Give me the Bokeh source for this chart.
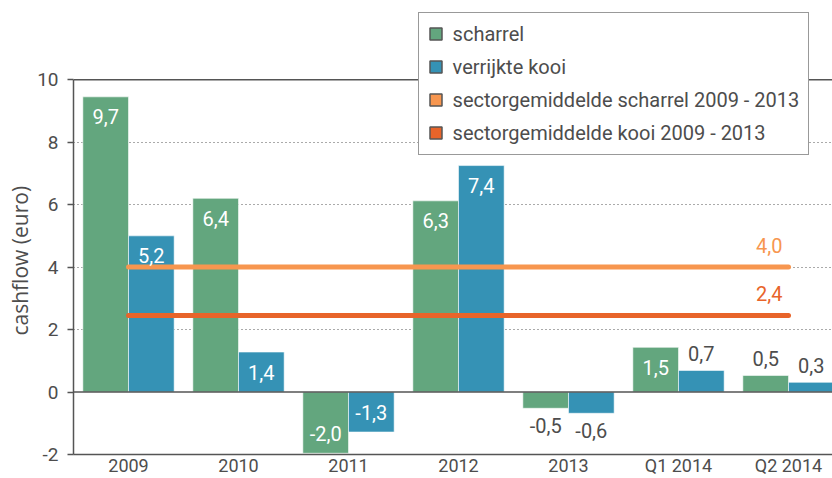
import numpy as np
from bokeh.plotting import figure
from bokeh.models import (ColumnDataSource, Range1d, FixedTicker, Span, Legend,
                          LegendItem, Title)
from bokeh.core.properties import value
from bokeh.embed import file_html
from bokeh.resources import INLINE

# ---- data ----
categories = ["2009", "2010", "2011", "2012", "2013", "Q1 2014", "Q2 2014"]
scharrel = [9.45, 6.2, -1.96, 6.12, -0.52, 1.43, 0.53]
kooi = [5.0, 1.28, -1.28, 7.25, -0.68, 0.69, 0.31]
scharrel_labels = ["9,7", "6,4", "-2,0", "6,3", "-0,5", "1,5", "0,5"]
kooi_labels = ["5,2", "1,4", "-1,3", "7,4", "-0,6", "0,7", "0,3"]
avg_values = [4.0, 2.45]
avg_labels = ["4,0", "2,4"]
y_ticks = [-2, 0, 2, 4, 6, 8, 10]
grid_ticks = [2, 4, 6, 8]
y_title = "cashflow (euro)"
series_names = ["scharrel", "verrijkte kooi",
                "sectorgemiddelde scharrel 2009 - 2013",
                "sectorgemiddelde kooi 2009 - 2013"]

# ---- styles / layout ----
GREEN = "#63A67E"
BLUE = "#3592B5"
LORANGE = "#F7964F"
DORANGE = "#E8642A"
GRAY = "#4d4d4d"
AXIS = "#555555"
FONT = "Roboto"

W, H = 832, 478
BOTTOM_PANEL = 25
TOP_PX = 79                      # pixel row of y = 10
TITLE_HALF_LEN = 68              # approx. half the pixel length of the y title
y_lo, y_hi = y_ticks[0], y_ticks[-1]
frame_h = H - BOTTOM_PANEL
px_per_unit = (frame_h - TOP_PX) / (y_hi - y_lo)
y_end = y_lo + frame_h / px_per_unit

n = len(categories)
centers = np.arange(n) + 0.5
bw = 0.415
off = 0.2075

p = figure(width=W, height=H, x_range=Range1d(0, 6.9), y_range=Range1d(y_lo, y_end),
           output_backend="svg", toolbar_location=None,
           min_border_left=73, min_border_right=0, min_border_top=0, min_border_bottom=0)
p.outline_line_color = None
p.background_fill_color = "white"
p.border_fill_color = "white"

# grid
p.xgrid.grid_line_color = None
p.ygrid.ticker = FixedTicker(ticks=grid_ticks)
p.ygrid.grid_line_color = AXIS
p.ygrid.grid_line_dash = "1 3"
p.ygrid.grid_line_width = 1

# y axis
p.yaxis.ticker = FixedTicker(ticks=y_ticks)
p.yaxis.bounds = (y_lo, y_hi)
p.yaxis.major_label_overrides = {t: str(t) for t in y_ticks}
p.yaxis.major_label_text_font = FONT
p.yaxis.major_label_text_font_size = "19px"
p.yaxis.major_label_text_color = GRAY
p.yaxis.major_label_standoff = 9
p.yaxis.major_tick_out = 6
p.yaxis.major_tick_in = 0
p.yaxis.minor_tick_line_color = None
p.yaxis.axis_line_color = AXIS
p.yaxis.axis_line_width = 1.5
p.yaxis.major_tick_line_color = AXIS
p.yaxis.major_tick_line_width = 1.5

# y title, centred on the -2..10 span (align "left" = measured up from frame bottom)
title_offset = (y_hi - y_lo) / 2 * px_per_unit - TITLE_HALF_LEN
p.add_layout(Title(text=y_title, align="left", offset=title_offset, standoff=2,
                   text_font="Open Sans", text_font_size="21px",
                   text_font_style="normal", text_color=GRAY), "left")

# x axis
p.xaxis.ticker = FixedTicker(ticks=list(centers))
p.xaxis.major_label_overrides = {float(c): lab for c, lab in zip(centers, categories)}
p.xaxis.major_label_text_font = FONT
p.xaxis.major_label_text_font_size = "18px"
p.xaxis.major_label_text_color = GRAY
p.xaxis.major_label_standoff = 0
p.xaxis.major_tick_out = 0
p.xaxis.major_tick_in = 0
p.xaxis.axis_label_standoff = 0
p.xaxis.major_tick_line_color = None
p.xaxis.minor_tick_line_color = None
p.xaxis.axis_line_color = AXIS
p.xaxis.axis_line_width = 1.5

# bars
src_g = ColumnDataSource(dict(x=centers - off, top=scharrel))
src_b = ColumnDataSource(dict(x=centers + off, top=kooi))
p.vbar(x="x", top="top", bottom=0, width=bw, source=src_g, fill_color=GREEN,
       line_color="white", line_alpha=0.55, line_width=1)
p.vbar(x="x", top="top", bottom=0, width=bw, source=src_b, fill_color=BLUE,
       line_color="white", line_alpha=0.55, line_width=1)

# frame lines at 10 and 0
p.add_layout(Span(location=y_hi, dimension="width", line_color=AXIS, line_width=1.5))
p.add_layout(Span(location=0, dimension="width", line_color=AXIS, line_width=1.5))

# average lines
avg_colors = [LORANGE, DORANGE]
for v, c in zip(avg_values, avg_colors):
    p.line(x=[centers[0], centers[-1]], y=[v, v], line_color=c, line_width=5,
           line_cap="round")
p.text(x=[centers[-1]] * 2, y=avg_values, text=avg_labels, x_offset=-6, y_offset=-22,
       text_align="right", text_baseline="middle", text_color=avg_colors,
       text_font=value(FONT), text_font_size="20px")

# value labels
def label_source(xs, heights, labels):
    yo, col = [], []
    for h, lab in zip(heights, labels):
        v = float(lab.replace(",", "."))
        inside = abs(v) >= 1
        if inside:
            yo.append(20 if h >= 0 else -20)
            col.append("white")
        else:
            yo.append(-17 if h >= 0 else 17)
            col.append(GRAY)
    return ColumnDataSource(dict(x=xs, y=heights, text=labels, yo=yo, col=col))

for s in (label_source(centers - off, scharrel, scharrel_labels),
          label_source(centers + off, kooi, kooi_labels)):
    p.text(x="x", y="y", text="text", y_offset="yo", text_color="col", source=s,
           text_align="center", text_baseline="middle",
           text_font=value(FONT), text_font_size="20px")

# legend (undrawn placeholder glyphs give the square swatches)
leg_colors = [GREEN, BLUE, LORANGE, DORANGE]
items = []
for name, c in zip(series_names, leg_colors):
    r = p.vbar(x=[np.nan], top=[np.nan], width=0.1, fill_color=c,
               line_color=AXIS, line_width=1.5)
    items.append(LegendItem(label=name, renderers=[r]))

# location = bottom-left corner of the box, measured from the frame's bottom-left
legend = Legend(items=items, location=(344.6, frame_h - 153.7), orientation="vertical",
                border_line_color="#333333", border_line_width=1.5,
                background_fill_color="white", background_fill_alpha=1.0,
                padding=9, spacing=9, margin=0,
                glyph_height=15, glyph_width=15, label_height=21, label_standoff=10,
                label_text_font=FONT, label_text_font_size="20px",
                label_text_color=GRAY)
p.add_layout(legend)

open("out.html", "w").write(file_html(p, INLINE))
